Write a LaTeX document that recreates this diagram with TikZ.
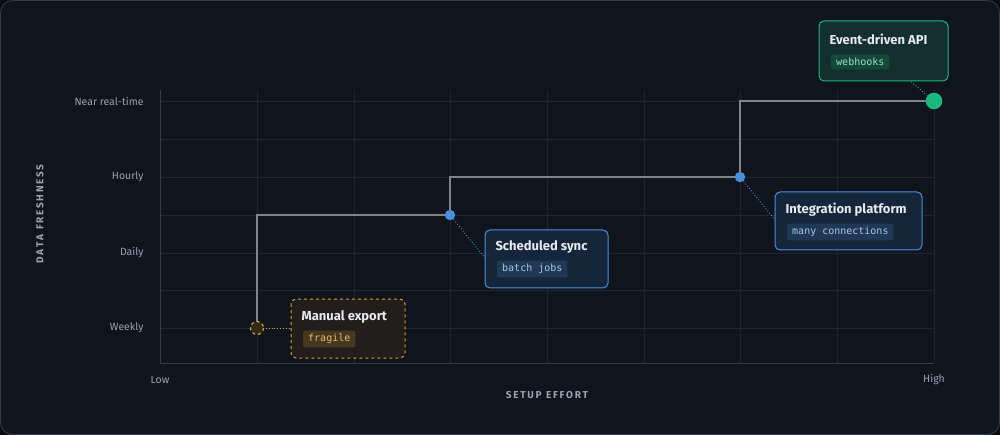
\documentclass[tikz,border=0pt]{standalone}
\usepackage{fontspec}
\setmainfont{Fira Sans}
\setmonofont{DejaVu Sans Mono}
\begin{document}
\definecolor{bg}{HTML}{0F141D}
\definecolor{outer}{HTML}{0A0D13}
\definecolor{grid}{HTML}{1E2532}
\definecolor{axis}{HTML}{343C4C}
\definecolor{tick}{HTML}{9AA3B2}
\definecolor{stepc}{HTML}{7E838D}
\definecolor{orng}{HTML}{D9A02B}
\definecolor{blu}{HTML}{4A90D9}
\definecolor{grn}{HTML}{19B97E}
\definecolor{ttl}{HTML}{E6E9EF}
\begin{tikzpicture}[x=1pt,y=-1pt,
  ticklab/.style={text=tick,font=\fontsize{10.5}{12}\selectfont},
  axtitle/.style={text=tick,font=\bfseries\fontsize{10}{11}\selectfont},
  box/.style={rounded corners=5pt,line width=1pt},
  title/.style={anchor=west,text=ttl,font=\fontsize{13}{14}\selectfont\bfseries},
  tag/.style={anchor=west,rounded corners=2pt,inner xsep=5pt,inner ysep=3.5pt,font=\ttfamily\fontsize{10}{11}\selectfont},
  leader/.style={dotted,line width=0.9pt}]
\useasboundingbox (0,0) rectangle (1000,435);
\fill[outer] (0,0) rectangle (1000,435);
\draw[fill=bg,draw=axis,rounded corners=12pt,line width=0.8pt] (0.5,0.5) rectangle (999.5,434.5);
% grid
\foreach \x in {257,354,450,547,644,740,837,934} \draw[grid,line width=0.8pt] (\x,90) -- (\x,363);
\foreach \y in {101,139,177,215,253,290,328} \draw[grid,line width=0.8pt] (160,\y) -- (934,\y);
\draw[axis,line width=1pt] (160,90) -- (160,363) -- (934,363);
% ticks
\node[ticklab,anchor=east] (t1) at (147,101) {Near real-time};
\node[ticklab,anchor=east] (t2) at (147,177) {Hourly};
\node[ticklab,anchor=east] (t3) at (147,253) {Daily};
\node[ticklab,anchor=east] (t4) at (147,328) {Weekly};
\node[ticklab] (xl) at (160,380) {Low};
\node[ticklab] (xh) at (934,380) {High};
\node[axtitle] (xt) at (547,395) {S\,E\,T\,U\,P\ \ E\,F\,F\,O\,R\,T};
\node[axtitle,rotate=90] (yt) at (40,214) {D\,A\,T\,A\ \ F\,R\,E\,S\,H\,N\,E\,S\,S};
% points
\coordinate (p1) at (257,328);
\coordinate (p2) at (450,215);
\coordinate (p3) at (740,177);
\coordinate (p4) at (934,101);
\draw[stepc,line width=1.4pt] (p1) -- (257,215) -- (p2) -- (450,177) -- (p3) -- (740,101) -- (p4);
% boxes
\draw[box,dashed,draw=orng,fill={rgb,255:red,33;green,30;blue,27}] (291,299) rectangle (405,358);
\node[title] (n1) at (298,317) {Manual export};
\node[tag,fill={rgb,255:red,70;green,56;blue,30},text=orng!70!white] (g1) at (303,339) {fragile};
\draw[box,draw=blu,fill={rgb,255:red,22;green,38;blue,58}] (485,230) rectangle (608,288);
\node[title] (n2) at (492,247) {Scheduled sync};
\node[tag,fill={rgb,255:red,33;green,56;blue,84},text=blu!50!white] (g2) at (497,269) {batch jobs};
\draw[box,draw=blu,fill={rgb,255:red,22;green,38;blue,58}] (775,192) rectangle (922,250);
\node[title] (n3) at (782,210) {Integration platform};
\node[tag,fill={rgb,255:red,33;green,56;blue,84},text=blu!50!white] (g3) at (787,232) {many connections};
\draw[box,draw=grn,fill={rgb,255:red,19;green,47;blue,46}] (819,21) rectangle (948,81);
\node[title] (n4) at (826,39) {Event-driven API};
\node[tag,fill={rgb,255:red,22;green,72;blue,58},text=grn!45!white] (g4) at (831,62) {webhooks};
% leaders
\coordinate (b1) at (291,328);
\coordinate (b2) at (485,258);
\coordinate (b3) at (775,220);
\coordinate (b4) at (910,81);
\draw[leader,orng] (p1) -- (b1);
\draw[leader,blu] (p2) -- (b2);
\draw[leader,blu] (p3) -- (b3);
\draw[leader,grn] (p4) -- (b4);
\draw[orng,dashed,line width=1.2pt,fill={rgb,255:red,50;green,40;blue,20}] (p1) circle (6.5);
\fill[blu] (p2) circle (5.2);
\fill[blu] (p3) circle (5.2);
\fill[grn] (p4) circle (8.3);
\end{tikzpicture}
\end{document}
